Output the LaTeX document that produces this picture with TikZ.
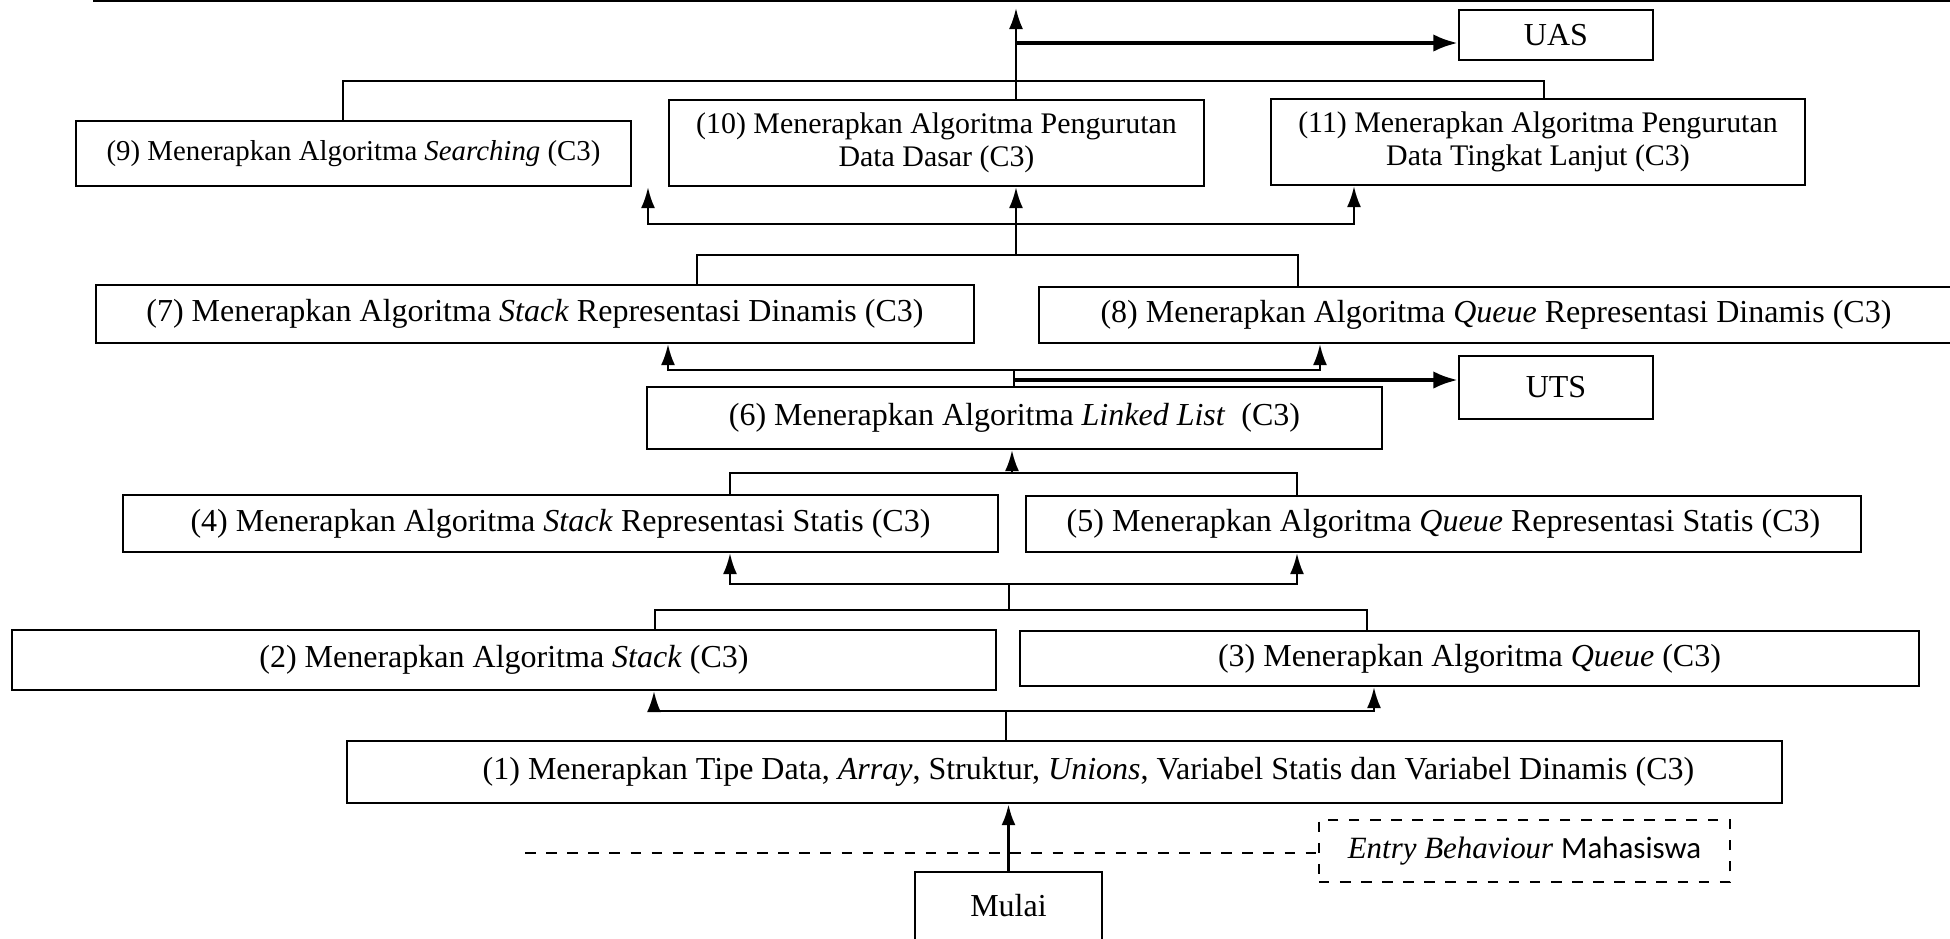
\documentclass[tikz,border=0pt]{standalone}
\usepackage{fontspec}
\setmainfont{Liberation Serif}
\newfontfamily\carlito{Carlito}
\usetikzlibrary{arrows.meta}
\begin{document}
\begin{tikzpicture}[x=0.01cm,y=-0.01cm,
  box/.style={draw,line width=0.6pt,inner sep=0pt,align=center,font=\fontsize{9.1}{9.3}\selectfont},
  topbox/.style={box,font=\fontsize{8.5}{9.3}\selectfont},
  thinln/.style={line width=0.35pt},
  arr/.style={line width=0.7pt,-{Latex[length=6pt,width=4pt]}},
  bigarr/.style={line width=1.1pt,-{Latex[length=7pt,width=5pt]}}]
\useasboundingbox (0,0) rectangle (1950,938);
% top rule
\draw[line width=0.7pt] (93,1) -- (1950,1);
% boxes
\node[box,minimum width=14.35cm,minimum height=0.62cm] (b1) at (1064.5,772)
  {\hspace*{0.48cm}(1) Menerapkan Tipe Data, \textit{Array}, Struktur, \textit{Unions}, Variabel Statis dan Variabel Dinamis (C3)};
\node[box,minimum width=9.84cm,minimum height=0.60cm] (b2) at (504,660)
  {(2) Menerapkan Algoritma \textit{Stack} (C3)};
\node[box,minimum width=8.99cm,minimum height=0.55cm] (b3) at (1469.5,658.5)
  {(3) Menerapkan Algoritma \textit{Queue} (C3)};
\node[box,minimum width=8.75cm,minimum height=0.57cm] (b4) at (560.5,523.5)
  {(4) Menerapkan Algoritma \textit{Stack} Representasi Statis (C3)};
\node[box,minimum width=8.35cm,minimum height=0.56cm] (b5) at (1443.5,524)
  {(5) Menerapkan Algoritma \textit{Queue} Representasi Statis (C3)};
\node[box,minimum width=7.35cm,minimum height=0.62cm] (b6) at (1014.5,418)
  {(6) Menerapkan Algoritma \textit{Linked List}\ \ (C3)};
\node[box,minimum width=8.78cm,minimum height=0.58cm] (b7) at (535,314)
  {(7) Menerapkan Algoritma \textit{Stack} Representasi Dinamis (C3)};
\node[box,minimum width=9.14cm,minimum height=0.56cm] (b8) at (1496,315)
  {(8) Menerapkan Algoritma \textit{Queue} Representasi Dinamis (C3)};
\node[topbox,font=\fontsize{8.2}{9.3}\selectfont,minimum width=5.55cm,minimum height=0.65cm] (b9) at (353.5,153.5)
  {(9) Menerapkan Algoritma \textit{Searching} (C3)};
\node[topbox,minimum width=5.35cm,minimum height=0.86cm] (b10) at (936.5,143)
  {(10) Menerapkan Algoritma Pengurutan\\Data Dasar (C3)};
\node[topbox,minimum width=5.34cm,minimum height=0.86cm] (b11) at (1538,142)
  {(11) Menerapkan Algoritma Pengurutan\\Data Tingkat Lanjut (C3)};
\node[box,minimum width=1.94cm,minimum height=0.50cm] (uas) at (1556,35) {UAS};
\node[box,minimum width=1.94cm,minimum height=0.63cm] (uts) at (1556,387.5) {UTS};
\node[box,minimum width=1.87cm,minimum height=0.68cm] (mulai) at (1008.5,906) {Mulai};
\node[box,dashed,minimum width=4.11cm,minimum height=0.62cm] (entry) at (1524.5,851)
  {\fontsize{8.8}{9.3}\selectfont\textit{Entry Behaviour} {\carlito Mahasiswa}};
% entry line
\coordinate (e0) at (525,853);
\draw[dashed,line width=0.6pt] (e0) -- (e0 -| entry.west);
% Mulai -> 1
\draw[arr,line width=0.9pt] (mulai.north) -- (mulai.north |- b1.south);
% 1 -> 2,3
\coordinate (s1) at (1006,711);
\coordinate (l1) at (654,711);
\coordinate (r1) at (1374,711);
\draw[thinln] (s1 |- b1.north) -- (s1);
\draw[arr] (s1) -- (l1) -- (l1 |- b2.south);
\draw[arr] (s1) -- (r1) -- (r1 |- b3.south);
% 2,3 -> 4,5
\coordinate (m23) at (1009,610);
\coordinate (ml2) at (655,610);
\coordinate (mr3) at (1367,610);
\coordinate (s2) at (1009,584);
\coordinate (l2) at (730,584);
\coordinate (r2) at (1297,584);
\draw[thinln] (ml2 |- b2.north) -- (ml2) -- (mr3) -- (mr3 |- b3.north);
\draw[thinln] (m23) -- (s2);
\draw[arr] (s2) -- (l2) -- (l2 |- b4.south);
\draw[arr] (s2) -- (r2) -- (r2 |- b5.south);
% 4,5 -> 6
\coordinate (ml4) at (730,473);
\coordinate (mr5) at (1297,473);
\coordinate (m45) at (1012,473);
\draw[thinln] (ml4 |- b4.north) -- (ml4) -- (mr5) -- (mr5 |- b5.north);
\draw[arr] (m45) -- (m45 |- b6.south);
% 6 -> 7,8 and UTS
\coordinate (s3) at (1014,370);
\coordinate (l3) at (668,370);
\coordinate (r3) at (1320,370);
\coordinate (u1) at (1014,380);
\draw[thinln] (s3 |- b6.north) -- (s3);
\draw[bigarr] (u1) -- (u1 -| uts.west);
\draw[arr] (s3) -- (l3) -- (l3 |- b7.south);
\draw[arr] (s3) -- (r3) -- (r3 |- b8.south);
% 7,8 -> 9,10,11
\coordinate (ml7) at (697,255);
\coordinate (mr8) at (1298,255);
\coordinate (m78) at (1016,255);
\coordinate (s4) at (1016,224);
\coordinate (l4) at (648,224);
\coordinate (r4) at (1354,224);
\draw[thinln] (ml7 |- b7.north) -- (ml7) -- (mr8) -- (mr8 |- b8.north);
\draw[thinln] (m78) -- (s4);
\draw[arr] (s4) -- (l4) -- (l4 |- b9.south);
\draw[arr] (s4) -- (r4) -- (r4 |- b11.south);
\draw[arr] (s4) -- (s4 |- b10.south);
% 9,10,11 -> top and UAS
\coordinate (ml9) at (343,81);
\coordinate (mr11) at (1544,81);
\coordinate (top) at (1016,8);
\coordinate (u2) at (1016,43);
\draw[thinln] (ml9 |- b9.north) -- (ml9) -- (mr11) -- (mr11 |- b11.north);
\draw[arr] (top |- b10.north) -- (top);
\draw[bigarr] (u2) -- (u2 -| uas.west);
\end{tikzpicture}
\end{document}
